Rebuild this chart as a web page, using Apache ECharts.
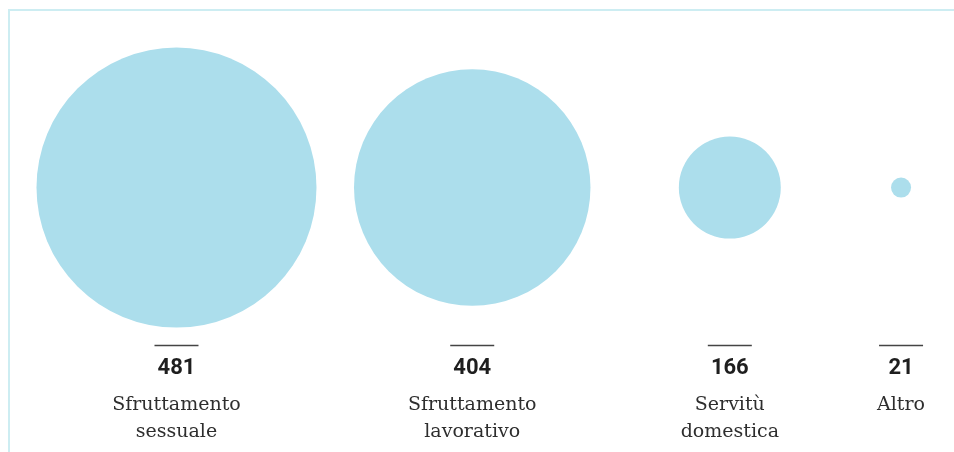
<!DOCTYPE html>
<html>
<head>
<meta charset="utf-8">
<script src="https://cdn.jsdelivr.net/npm/echarts@6/dist/echarts.min.js"></script>
<style>
  html, body { margin: 0; padding: 0; background: #fff; }
  #chart { width: 954px; height: 452px; }
</style>
</head>
<body>
<div id="chart"></div>
<script>
// dati
var categories = ['Sfruttamento\nsessuale', 'Sfruttamento\nlavorativo', 'Servitù\ndomestica', 'Altro'];
var values = [481, 404, 166, 21];
// posizione orizzontale delle colonne (percentuale della larghezza)
var slots = [18.5, 49.5, 76.5, 94.45];

var bubbleRow = 58.5;   // riga delle bolle
var labelRow = 23.8;    // riga delle etichette

var bubbleColor = '#acdeec';

// diametro lineare sul valore
function bubbleSize(v) {
  return 20 + (v - 21) * 260 / 460;
}

var myChart = echarts.init(document.getElementById('chart'));

var bubbleData = [];
var labelData = [];
for (var i = 0; i < values.length; i++) {
  bubbleData.push([slots[i], bubbleRow, values[i]]);
  labelData.push({ value: [slots[i], labelRow], num: values[i], name: categories[i] });
}

var option = {
  animation: false,
  grid: { left: 0, right: 0, top: 0, bottom: 0 },
  xAxis: { type: 'value', min: 0, max: 100, show: false },
  yAxis: { type: 'value', min: 0, max: 100, show: false },
  graphic: [{
    type: 'polyline',
    shape: { points: [[9, 452], [9, 10], [954, 10]] },
    style: { stroke: '#cdedf2', lineWidth: 2, fill: null }
  }],
  series: [{
    type: 'scatter',
    data: bubbleData,
    symbolSize: function (d) { return bubbleSize(d[2]); },
    itemStyle: { color: bubbleColor, opacity: 1 },
    silent: true
  }, {
    type: 'scatter',
    data: labelData,
    symbolSize: 0,
    silent: true,
    itemStyle: { opacity: 1 },
    label: {
      show: true,
      position: 'bottom',
      distance: 0,
      align: 'center',
      formatter: function (p) {
        return '{line|}\n{num|' + p.data.num + '}\n{name|' + p.data.name + '}';
      },
      rich: {
        line: { width: 44, height: 1.5, lineHeight: 2, backgroundColor: '#444' },
        num: { fontFamily: 'Roboto', fontWeight: 'bold', fontSize: 22, color: '#1e1e1e', lineHeight: 45, align: 'center' },
        name: { fontFamily: 'DejaVu Serif', fontSize: 19, color: '#2e2e2e', lineHeight: 27, align: 'center' }
      }
    }
  }]
};
myChart.setOption(option);
</script>
</body>
</html>
